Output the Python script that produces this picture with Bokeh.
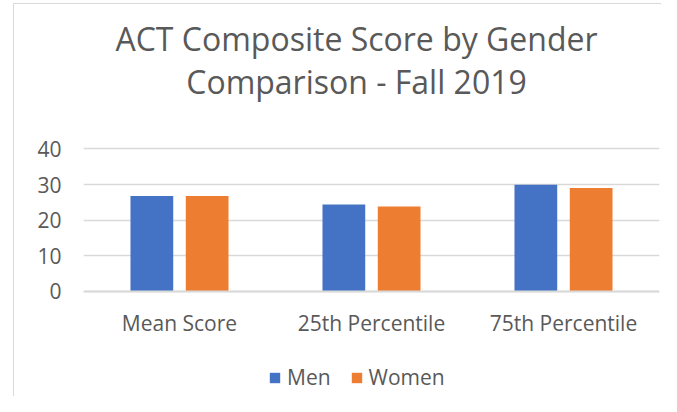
from bokeh.plotting import figure
from bokeh.models import ColumnDataSource, Range1d, FixedTicker, Label, Legend, LegendItem
from bokeh.transform import dodge
from bokeh.embed import file_html
from bokeh.resources import INLINE

categories = ["Mean Score", "25th Percentile", "75th Percentile"]
men = [26.8, 24.4, 29.9]
women = [26.8, 23.8, 29.0]
y_ticks = [0, 10, 20, 30, 40]
series_names = ["Men", "Women"]
title_lines = ["ACT Composite Score by Gender", "Comparison - Fall 2019"]

FONT = "Open Sans"
TXT = "#595959"
GRID = "#d9d9d9"
BLUE = "#4472C4"
ORANGE = "#ED7D31"

src = ColumnDataSource(dict(cat=categories, men=men, women=women))

p = figure(x_range=categories, y_range=Range1d(-29.55, 81.69),
           width=661, height=396, output_backend="svg", toolbar_location=None,
           min_border_left=83, min_border_right=2, min_border_top=0, min_border_bottom=0)
p.title.visible = False
p.x_range.range_padding = 0
p.outline_line_color = None
p.background_fill_alpha = 0
p.border_fill_alpha = 0
# thin chart-area border (left and top edges), painted behind the transparent canvas
line_img = f"linear-gradient({GRID}, {GRID})"
p.styles = {"background-color": "white",
            "background-image": f"{line_img}, {line_img}",
            "background-size": "1px 100%, 100% 1px",
            "background-position": "13px 3px, 13px 3px",
            "background-repeat": "no-repeat"}

bw = 0.2226
r_men = p.vbar(x=dodge("cat", -0.144, range=p.x_range), top="men", width=bw, source=src,
               fill_color=BLUE, line_color=None)
r_women = p.vbar(x=dodge("cat", 0.144, range=p.x_range), top="women", width=bw, source=src,
                 fill_color=ORANGE, line_color=None)

# grid
p.xgrid.grid_line_color = None
p.ygrid.grid_line_color = GRID
p.ygrid.grid_line_width = 1.5
p.ygrid.ticker = FixedTicker(ticks=y_ticks)

# y axis
p.yaxis.ticker = FixedTicker(ticks=y_ticks)
p.yaxis.axis_line_color = None
p.yaxis.major_tick_line_color = None
p.yaxis.minor_tick_line_color = None
p.yaxis.major_label_standoff = 16
p.yaxis.major_label_text_font = FONT
p.yaxis.major_label_text_font_size = "21px"
p.yaxis.major_label_text_color = TXT

# x axis, pinned at y = 0
p.xaxis.fixed_location = 0
p.xaxis.axis_line_color = GRID
p.xaxis.axis_line_width = 2
p.xaxis.major_tick_line_color = None
p.xaxis.minor_tick_line_color = None
p.xaxis.major_label_standoff = 12
p.xaxis.major_label_text_font = FONT
p.xaxis.major_label_text_font_size = "21px"
p.xaxis.major_label_text_color = TXT

# two-line title
for txt, yy in zip(title_lines, [358.3, 315.3]):
    p.add_layout(Label(x=273, y=yy, x_units="screen", y_units="screen", text=txt,
                       text_align="center", text_baseline="alphabetic",
                       text_font=FONT, text_font_size="32px", text_color=TXT))

legend = Legend(items=[LegendItem(label=series_names[0], renderers=[r_men]),
                       LegendItem(label=series_names[1], renderers=[r_women])],
                location=(185, 5), orientation="horizontal",
                glyph_width=13, glyph_height=13, label_standoff=6, spacing=19,
                padding=0, margin=0, border_line_color=None, background_fill_alpha=0,
                label_text_font=FONT, label_text_font_size="21px", label_text_color=TXT)
p.add_layout(legend, "center")

open("out.html", "w").write(file_html(p, INLINE))
